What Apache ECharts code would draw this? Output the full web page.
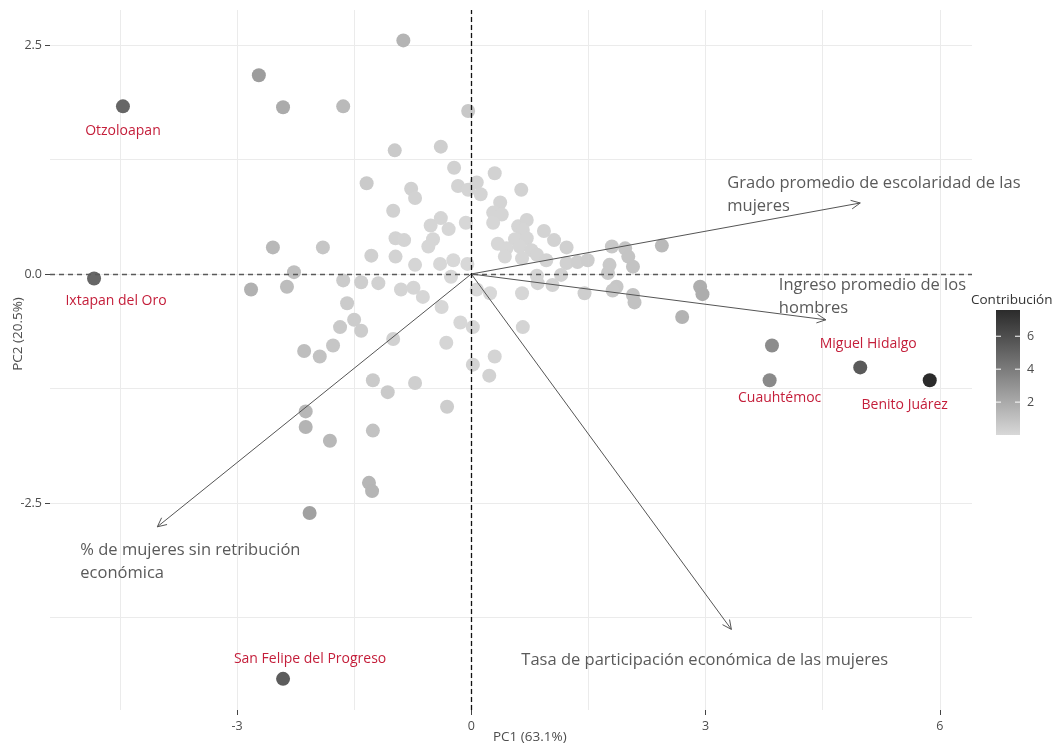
<!DOCTYPE html>
<html>
<head>
<meta charset="utf-8">
<script src="https://cdn.jsdelivr.net/npm/echarts@6/dist/echarts.min.js"></script>
<style>
  html, body { margin: 0; padding: 0; background: #ffffff; }
  #chart { width: 1058px; height: 746px; }
</style>
</head>
<body>
<div id="chart"></div>
<script>
// Municipios etiquetados (primeros valores de pc1 / pc2)
const nombres = ['Otzoloapan', 'Ixtapan del Oro', 'San Felipe del Progreso', 'Miguel Hidalgo', 'Cuauhtémoc', 'Benito Juárez'];

// Coordenadas de los individuos en los dos primeros componentes
const pc1 = [
  -4.46, -4.83, -2.41, 4.98, 3.82, 5.87,
  -0.87, -2.72, -2.41, -1.64, -0.04, -0.98, -0.39, -0.22, 0.30, -1.34,
  -0.77, -0.72, -0.17, -0.04, 0.07, 0.12, 0.64, -1.00, 0.37, 0.28,
  0.39, 0.28, -0.52, -0.39, -0.29, -0.07, -0.97, -0.86, -0.49, -0.55,
  0.60, 0.71, 0.66, 0.93, 1.06, 1.22, 0.34, 0.56, 0.45, 0.71,
  0.62, 0.77, 0.43, 0.65, 0.84, 0.96, -1.28, -0.97, -0.72, -0.40,
  -0.23, -0.05, 1.22, 1.36, 1.49, 1.80, 1.97, 2.01, 2.07, 2.44,
  1.77, 1.75, -2.54, -1.90, -2.27, -1.64, -1.41, -1.19, -0.26, -2.82,
  -2.36, -0.90, -0.74, -0.62, -1.59, -1.50, -1.68, -1.41, -0.38, -0.14,
  0.02, 0.02, -1.00, -1.77, -2.14, -1.94, -0.32, -1.26, -1.07, -0.72,
  -0.31, -2.12, -2.12, -1.81, -1.26, -1.31, -1.27, -2.07, 0.07, 0.24,
  0.65, 0.84, 0.85, 1.04, 1.15, 1.45, 1.86, 1.81, 2.07, 2.09,
  0.66, 0.30, 0.23, 2.70, 2.93, 2.96, 3.85
];
const pc2 = [
  1.83, -0.05, -4.42, -1.02, -1.16, -1.16,
  2.55, 2.17, 1.82, 1.83, 1.78, 1.35, 1.39, 1.16, 1.10, 0.99,
  0.93, 0.83, 0.96, 0.92, 1.00, 0.87, 0.92, 0.69, 0.78, 0.67,
  0.65, 0.56, 0.53, 0.61, 0.49, 0.56, 0.39, 0.37, 0.38, 0.30,
  0.52, 0.59, 0.48, 0.47, 0.37, 0.29, 0.33, 0.38, 0.28, 0.39,
  0.30, 0.26, 0.19, 0.17, 0.21, 0.15, 0.20, 0.19, 0.10, 0.11,
  0.15, 0.11, 0.12, 0.13, 0.15, 0.30, 0.28, 0.19, 0.08, 0.31,
  0.10, 0.01, 0.29, 0.29, 0.02, -0.07, -0.09, -0.10, -0.03, -0.17,
  -0.14, -0.17, -0.15, -0.25, -0.32, -0.50, -0.58, -0.62, -0.36, -0.53,
  -0.58, -0.99, -0.71, -0.78, -0.84, -0.90, -0.75, -1.16, -1.29, -1.19,
  -1.45, -1.50, -1.67, -1.82, -1.71, -2.28, -2.37, -2.61, -0.17, -0.21,
  -0.21, -0.02, -0.10, -0.12, -0.01, -0.21, -0.14, -0.18, -0.23, -0.31,
  -0.58, -0.90, -1.11, -0.47, -0.14, -0.22, -0.78
];

// Variables (flechas) y sus coordenadas
const variables = [
  'Grado promedio de escolaridad de las\nmujeres',
  'Ingreso promedio de los\nhombres',
  '% de mujeres sin retribución\neconómica',
  'Tasa de participación económica de las mujeres'
];
const cargaPC1 = [4.98, 4.54, -4.02, 3.33];
const cargaPC2 = [0.775, -0.50, -2.76, -3.88];

// Varianza explicada (%) y número de municipios
const varianza = [63.1, 20.5];
const N_MUNICIPIOS = 141;
const N_VARIABLES = 4;

// Marcas de los ejes
const ticksX = [-3, 0, 3, 6];
const ticksY = [-2.5, 0, 2.5];
const gridX = [-4.5, -3, -1.5, 0, 1.5, 3, 4.5, 6];
const gridY = [-3.75, -2.5, -1.25, 0, 1.25, 2.5];
const ticksLeyenda = [2, 4, 6];

// Contribución de cada municipio a las dimensiones 1-2
const eig = varianza.map(v => v / 100 * N_VARIABLES);
const contrib = pc1.map((x, i) => 100 * (x * x + pc2[i] * pc2[i]) / (N_MUNICIPIOS * (eig[0] + eig[1])));
const cMin = Math.min(...contrib);
const cMax = Math.max(...contrib);

const rampa = ['#d8d8d8', '#acacac', '#808080', '#555555', '#2b2b2b'];
const FONT = '"Open Sans", "Noto Sans", sans-serif';
const ROJO = '#c41e3a';

const desplazaEtiqueta = {
  'Otzoloapan': [0, 25],
  'Ixtapan del Oro': [22, 22],
  'San Felipe del Progreso': [27, -20],
  'Miguel Hidalgo': [8, -23],
  'Cuauhtémoc': [10, 18],
  'Benito Juárez': [-25, 25]
};
const desplazaVariable = [[-133, -31], [-47, -46], [-77, 12], [-210, 19]];

const puntos = pc1.map((x, i) => {
  const item = { value: [x, pc2[i], contrib[i]] };
  if (i < nombres.length) {
    item.label = {
      show: true,
      position: 'inside',
      formatter: nombres[i],
      offset: desplazaEtiqueta[nombres[i]],
      color: ROJO,
      fontSize: 14,
      fontFamily: FONT
    };
  }
  return item;
});

const flechas = variables.map((v, i) => [cargaPC1[i], cargaPC2[i]]);

const X_MIN = -5.394, X_MAX = 6.411, Y_MIN = -4.760, Y_MAX = 2.882;
const G = { left: 50, right: 86, top: 10, bottom: 36 };

const chart = echarts.init(document.getElementById('chart'), null, { renderer: 'canvas' });

// Barra de color de la leyenda
const barra = { x: 996, y: 310, w: 24, h: 125 };
const extras = [
  {
    type: 'text', x: 971, y: 300,
    style: { text: 'Contribución', fill: '#333', fontSize: 13.5, fontFamily: FONT, verticalAlign: 'middle' }
  },
  {
    type: 'rect', shape: { x: barra.x, y: barra.y, width: barra.w, height: barra.h },
    style: {
      fill: new echarts.graphic.LinearGradient(0, 0, 0, 1,
        rampa.slice().reverse().map((c, i) => ({ offset: i / (rampa.length - 1), color: c })))
    }
  }
];
ticksLeyenda.forEach(v => {
  const yy = barra.y + (cMax - v) / (cMax - cMin) * barra.h;
  extras.push(
    { type: 'line', shape: { x1: barra.x, y1: yy, x2: barra.x + 5, y2: yy }, style: { stroke: '#ffffff', lineWidth: 1 } },
    { type: 'line', shape: { x1: barra.x + barra.w - 5, y1: yy, x2: barra.x + barra.w, y2: yy }, style: { stroke: '#ffffff', lineWidth: 1 } },
    { type: 'text', x: barra.x + barra.w + 7, y: yy, style: { text: String(v), fill: '#4d4d4d', fontSize: 12.5, fontFamily: FONT, verticalAlign: 'middle' } }
  );
});
// Títulos de los ejes
extras.push(
  { type: 'text', x: 493, y: 737, style: { text: 'PC1 (' + varianza[0] + '%)', fill: '#4d4d4d', fontSize: 13.5, fontFamily: FONT, verticalAlign: 'middle' } },
  { type: 'text', x: 18, y: 334, rotation: Math.PI / 2, style: { text: 'PC2 (' + varianza[1] + '%)', fill: '#4d4d4d', fontSize: 13.5, fontFamily: FONT, align: 'center', verticalAlign: 'middle' } }
);

const option = {
  animation: false,
  backgroundColor: '#ffffff',
  grid: G,
  xAxis: [
    {
      type: 'value', min: X_MIN, max: X_MAX,
      axisLine: { show: true, onZero: false, lineStyle: { opacity: 0 } },
      axisTick: { show: true, customValues: ticksX, length: 5, lineStyle: { color: '#444', width: 1 } },
      axisLabel: { customValues: ticksX, color: '#4d4d4d', fontSize: 12.5, fontFamily: FONT, margin: 10 },
      splitLine: { show: false }
    },
    {
      type: 'value', min: X_MIN, max: X_MAX, position: 'top',
      axisLine: { show: false, onZero: false },
      axisTick: { show: false, customValues: gridX },
      axisLabel: { show: false },
      splitLine: { show: true, lineStyle: { color: '#ebebeb', width: 1 } }
    }
  ],
  yAxis: [
    {
      type: 'value', min: Y_MIN, max: Y_MAX,
      axisLine: { show: true, onZero: false, lineStyle: { opacity: 0 } },
      axisTick: { show: true, customValues: ticksY, length: 5, lineStyle: { color: '#444', width: 1 } },
      axisLabel: { customValues: ticksY, formatter: v => v.toFixed(1), color: '#4d4d4d', fontSize: 12.5, fontFamily: FONT, margin: 8 },
      splitLine: { show: false }
    },
    {
      type: 'value', min: Y_MIN, max: Y_MAX, position: 'right',
      axisLine: { show: false, onZero: false },
      axisTick: { show: false, customValues: gridY },
      axisLabel: { show: false },
      splitLine: { show: true, lineStyle: { color: '#ebebeb', width: 1 } }
    }
  ],
  visualMap: {
    type: 'continuous', show: false, dimension: 2, seriesIndex: 0,
    min: cMin, max: cMax, inRange: { color: rampa }
  },
  graphic: extras,
  series: [
    {
      type: 'scatter', xAxisIndex: 0, yAxisIndex: 0, z: 2,
      symbolSize: 14,
      itemStyle: { opacity: 1 },
      emphasis: { disabled: true },
      data: puntos
    },
    {
      type: 'scatter', xAxisIndex: 0, yAxisIndex: 0, z: 3,
      data: [],
      markLine: {
        silent: true, symbol: ['none', 'none'], label: { show: false }, animation: false,
        data: [
          { yAxis: 0, lineStyle: { color: '#5a5a5a', type: [5, 4], width: 1.3 } },
          { xAxis: 0, lineStyle: { color: '#111111', type: [5, 3], width: 1.3 } }
        ]
      }
    },
    {
      type: 'custom', xAxisIndex: 0, yAxisIndex: 0, z: 4,
      silent: true,
      data: flechas,
      encode: { x: 0, y: 1 },
      renderItem: function (params, api) {
        const o = api.coord([0, 0]);
        const t = api.coord([api.value(0), api.value(1)]);
        const ang = Math.atan2(t[1] - o[1], t[0] - o[0]);
        const L = 10, a = Math.PI / 7;
        const p1 = [t[0] - L * Math.cos(ang - a), t[1] - L * Math.sin(ang - a)];
        const p2 = [t[0] - L * Math.cos(ang + a), t[1] - L * Math.sin(ang + a)];
        const off = desplazaVariable[params.dataIndex];
        return {
          type: 'group',
          children: [
            { type: 'line', shape: { x1: o[0], y1: o[1], x2: t[0], y2: t[1] }, style: { stroke: '#555555', lineWidth: 1 } },
            { type: 'polyline', shape: { points: [p1, t, p2] }, style: { stroke: '#555555', lineWidth: 1, fill: null } },
            {
              type: 'text', x: t[0] + off[0], y: t[1] + off[1],
              style: {
                text: variables[params.dataIndex], fill: '#5a5a5a', fontSize: 16.5, fontFamily: FONT,
                align: 'left', verticalAlign: 'top', lineHeight: 23
              }
            }
          ]
        };
      }
    }
  ]
};

chart.setOption(option);
</script>
</body>
</html>
